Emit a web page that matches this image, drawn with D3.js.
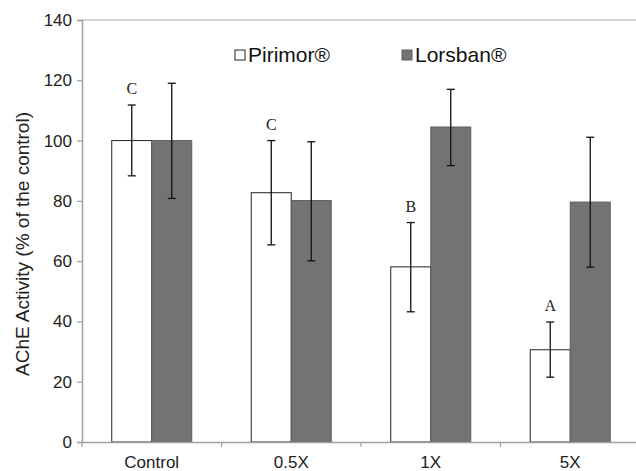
<!DOCTYPE html>
<html>
<head>
<meta charset="utf-8">
<script src="https://cdn.jsdelivr.net/npm/d3@7"></script>
<style>
  body { margin: 0; background: #fff; }
  svg { display: block; font-family: "Liberation Sans", Arial, sans-serif; }
</style>
</head>
<body>
<div id="chart"></div>
<script>
const categories = ["Control", "0.5X", "1X", "5X"];
const seriesNames = ["Pirimor®", "Lorsban®"];
const pirimor = [100, 82.7, 58.1, 30.6];
const lorsban = [100, 80.1, 104.5, 79.6];
const pirimorLow = [88.3, 65.4, 43.2, 21.5];
const pirimorHigh = [111.8, 100, 72.8, 39.8];
const lorsbanLow = [80.8, 60.1, 91.7, 58];
const lorsbanHigh = [119, 99.6, 117, 101.1];
const letters = ["C", "C", "B", "A"];
const yTicks = [0, 20, 40, 60, 80, 100, 120, 140];

const W = 636, H = 471;
const M = { top: 20, right: -4, bottom: 29, left: 82 };
const svg = d3.select("#chart").append("svg").attr("width", W).attr("height", H);

const x = d3.scaleBand().domain(categories).range([M.left, W - M.right]);
const y = d3.scaleLinear().domain([0, 140]).range([H - M.bottom, M.top]);
const barW = 40;

// top frame line
svg.append("line").attr("x1", M.left).attr("x2", W).attr("y1", y(140)).attr("y2", y(140))
    .attr("stroke", "#b0b0b0").attr("stroke-width", 1.2);

const series = [
    { name: seriesNames[0], vals: pirimor, lo: pirimorLow, hi: pirimorHigh, fill: "#ffffff", stroke: "#222", off: -barW },
    { name: seriesNames[1], vals: lorsban, lo: lorsbanLow, hi: lorsbanHigh, fill: "#737373", stroke: "#5e5e5e", off: 0 }
];

series.forEach(s => {
    const g = svg.append("g");
    g.selectAll("rect").data(categories).join("rect")
        .attr("x", d => x(d) + x.bandwidth() / 2 + s.off)
        .attr("y", (d, i) => y(s.vals[i]))
        .attr("width", barW)
        .attr("height", (d, i) => y(0) - y(s.vals[i]))
        .attr("fill", s.fill).attr("stroke", s.stroke).attr("stroke-width", 1);
});

// error bars
series.forEach(s => {
    const g = svg.append("g").attr("stroke", "#111").attr("stroke-width", 1.3);
    categories.forEach((c, i) => {
        const cx = x(c) + x.bandwidth() / 2 + s.off + barW / 2;
        g.append("line").attr("x1", cx).attr("x2", cx).attr("y1", y(s.lo[i])).attr("y2", y(s.hi[i]));
        g.append("line").attr("x1", cx - 4).attr("x2", cx + 4).attr("y1", y(s.lo[i])).attr("y2", y(s.lo[i]));
        g.append("line").attr("x1", cx - 4).attr("x2", cx + 4).attr("y1", y(s.hi[i])).attr("y2", y(s.hi[i]));
    });
});

// significance letters
svg.append("g").selectAll("text").data(categories).join("text")
    .attr("x", d => x(d) + x.bandwidth() / 2 - barW / 2)
    .attr("y", (d, i) => y(pirimorHigh[i]) - 11)
    .attr("text-anchor", "middle")
    .style("font-family", "'Liberation Serif', 'Times New Roman', serif")
    .style("font-size", "16px").attr("fill", "#222")
    .text((d, i) => letters[i]);

// y axis
const yAxis = svg.append("g").attr("transform", `translate(${M.left},0)`)
    .call(d3.axisLeft(y).tickValues(yTicks).tickSize(5).tickPadding(5));
yAxis.select(".domain").attr("stroke", "#a0a0a0").attr("stroke-width", 1.5);
yAxis.selectAll(".tick line").attr("stroke", "#a0a0a0").attr("stroke-width", 1.2);
yAxis.selectAll(".tick text").style("font-size", "17px").attr("fill", "#222")
    .style("font-family", "'Liberation Sans', Arial, sans-serif");

// x axis
const xAxis = svg.append("g").attr("transform", `translate(0,${y(0)})`)
    .call(d3.axisBottom(x).tickSize(0).tickPadding(14));
xAxis.select(".domain").attr("stroke", "#a0a0a0").attr("stroke-width", 1.5);
xAxis.selectAll(".tick text").style("font-size", "17px").attr("fill", "#222")
    .style("font-family", "'Liberation Sans', Arial, sans-serif");
svg.append("g").selectAll("line").data(categories).join("line")
    .attr("x1", d => x(d)).attr("x2", d => x(d))
    .attr("y1", y(0)).attr("y2", y(0) + 5)
    .attr("stroke", "#a0a0a0").attr("stroke-width", 1.2);

// y title
svg.append("text")
    .attr("transform", `translate(29,${(y(0) + y(140)) / 2 + 13}) rotate(-90)`)
    .attr("text-anchor", "middle")
    .style("font-size", "19px").attr("fill", "#222")
    .text("AChE Activity (% of the control)");

// legend
const legX = [235, 402];
series.forEach((s, i) => {
    const g = svg.append("g").attr("transform", `translate(${legX[i]},50)`);
    g.append("rect").attr("width", 10).attr("height", 10)
        .attr("fill", s.fill).attr("stroke", i === 0 ? "#222" : "#5e5e5e").attr("stroke-width", 1);
    g.append("text").attr("x", 13).attr("y", 12)
        .style("font-size", "21px").attr("fill", "#111").text(s.name);
});
</script>
</body>
</html>
